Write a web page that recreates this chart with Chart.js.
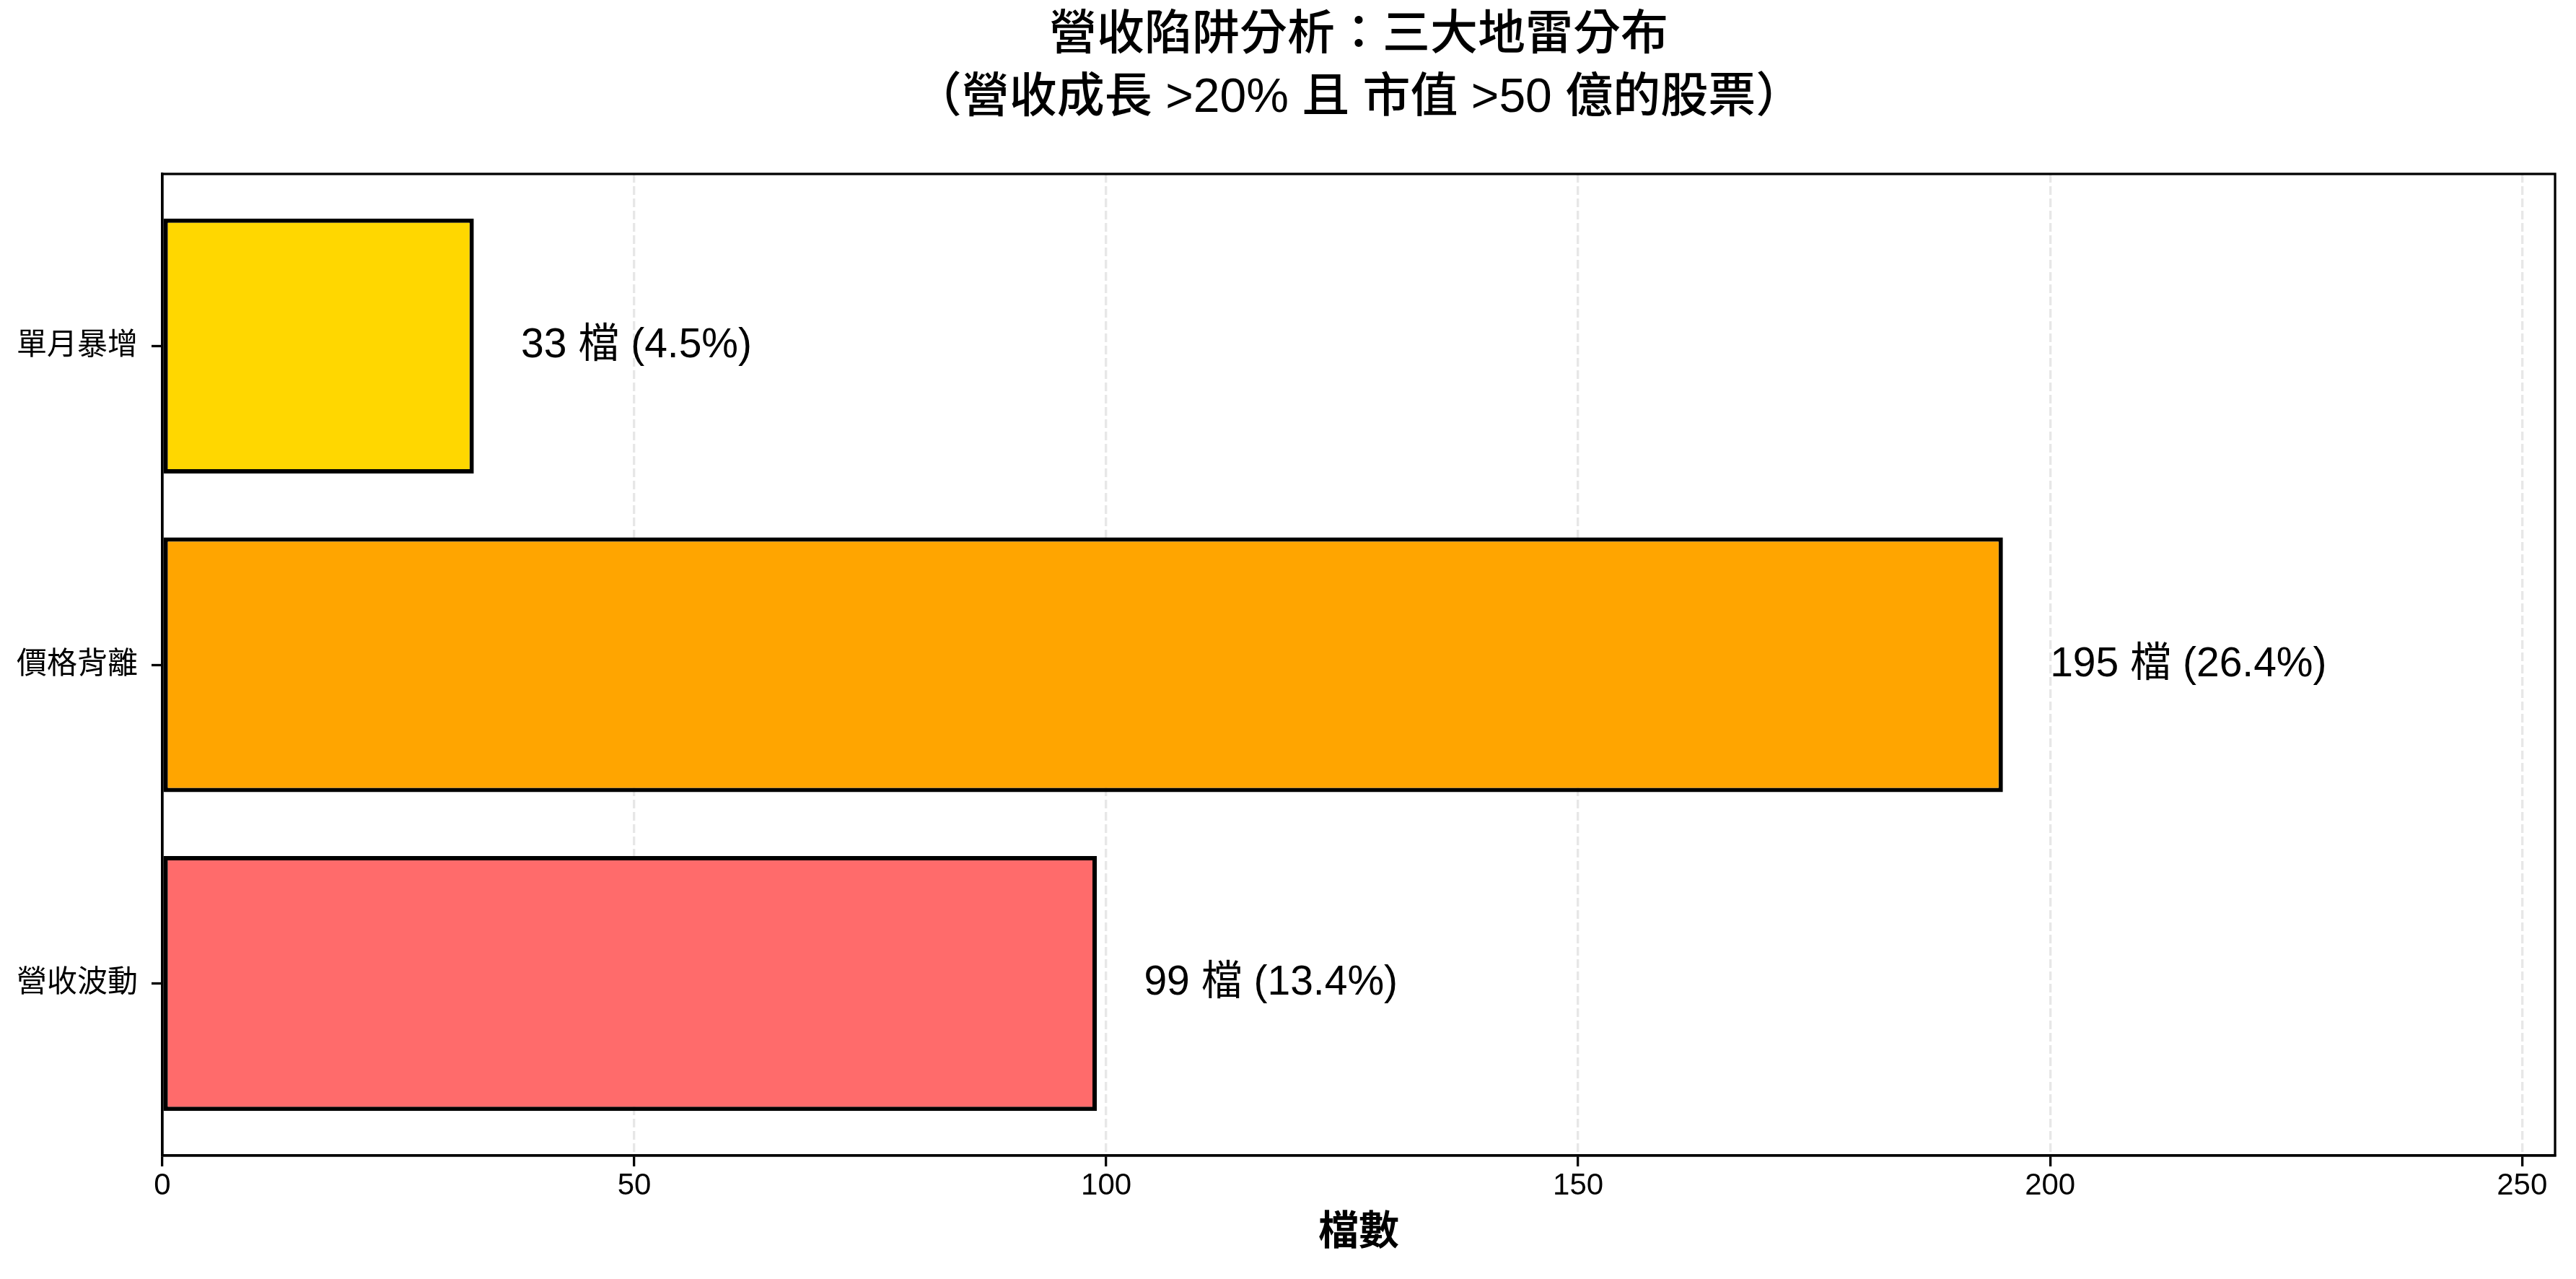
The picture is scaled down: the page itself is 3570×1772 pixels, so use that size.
<!DOCTYPE html>
<html>
<head>
<meta charset="utf-8">
<title>營收陷阱分析</title>
<script src="https://cdn.jsdelivr.net/npm/chart.js@4.4.0/dist/chart.umd.min.js"></script>
<style>
  html, body { margin: 0; padding: 0; background: #fff; }
  canvas { display: block; }
</style>
</head>
<body>
<canvas id="trapChart" width="3570" height="1772"></canvas>
<script>
// 三大地雷 (bottom to top, same order as the bars)
const categories = ["營收波動", "價格背離", "單月暴增"];
const counts = [99, 195, 33];
const percents = [13.4, 26.4, 4.5];
const xTicks = [0, 50, 100, 150, 200, 250];
const titleLines = ["營收陷阱分析：三大地雷分布", "（營收成長 >20% 且 市值 >50 億的股票）"];
const xTitle = "檔數";

const barColors = ["#FF6B6B", "#FFA500", "#FFD700"];
const FONT = "'Liberation Sans', 'Noto Sans CJK TC', sans-serif";

// value labels to the right of each bar
const barLabels = {
    id: 'barLabels',
    afterDatasetsDraw(chart) {
        const ctx = chart.ctx;
        const x = chart.scales.x;
        const meta = chart.getDatasetMeta(0);
        ctx.save();
        ctx.font = `57px ${FONT}`;
        ctx.fillStyle = '#000';
        ctx.textAlign = 'left';
        ctx.textBaseline = 'middle';
        meta.data.forEach((bar, i) => {
            ctx.fillText(`${counts[i]} 檔 (${percents[i]}%)`, x.getPixelForValue(counts[i] + 5), bar.y);
        });
        ctx.restore();
    }
};

// full box around the plot + title centred over the plot area
const frameAndTitle = {
    id: 'frameAndTitle',
    afterDraw(chart) {
        const { ctx, chartArea: a } = chart;
        ctx.save();
        ctx.strokeStyle = '#000';
        ctx.lineWidth = 3.3;
        ctx.strokeRect(a.left, a.top, a.right - a.left, a.bottom - a.top);

        ctx.font = `500 66px ${FONT}`;
        ctx.fillStyle = '#000';
        ctx.textAlign = 'center';
        ctx.textBaseline = 'middle';
        const cx = (a.left + a.right) / 2;
        ctx.fillText(titleLines[0], cx, 50);
        ctx.fillText(titleLines[1], cx, 137);
        ctx.restore();
    }
};

const ctx = document.getElementById('trapChart').getContext('2d');
const trapChart = new Chart(ctx, {
    type: 'bar',
    data: {
        datasets: [{
            data: counts.map((c, i) => ({ x: c, y: i })),
            backgroundColor: barColors,
            borderColor: '#000',
            borderWidth: 6,
            borderSkipped: false,
            categoryPercentage: 1,
            barPercentage: 0.8
        }]
    },
    options: {
        indexAxis: 'y',
        responsive: false,
        animation: false,
        devicePixelRatio: 1,
        layout: { padding: { top: 241, right: 29, bottom: 26, left: 0 } },
        plugins: {
            legend: { display: false },
            tooltip: { enabled: false },
            title: { display: false }
        },
        scales: {
            x: {
                type: 'linear',
                min: 0,
                max: Math.max(...counts) * 1.3,
                z: 1,
                afterBuildTicks: s => { s.ticks = xTicks.map(v => ({ value: v })); },
                afterFit: s => { s.height = 145; },
                ticks: { font: { family: FONT, size: 42 }, color: '#000', padding: 2 },
                grid: {
                    color: c => (c.tick && c.tick.value === 0) ? 'rgba(0,0,0,0)' : 'rgba(176,176,176,0.3)',
                    lineWidth: 3.3,
                    tickLength: 15,
                    tickWidth: 3.3,
                    tickColor: '#000'
                },
                border: { color: '#000', width: 3.3, dash: [12, 5] },
                title: {
                    display: true,
                    text: xTitle,
                    font: { family: FONT, size: 56, weight: 'bold' },
                    color: '#000',
                    padding: { top: 4, bottom: 4 }
                }
            },
            y: {
                type: 'linear',
                min: -0.54,
                max: 2.54,
                offset: false,
                z: 2,
                afterBuildTicks: s => { s.ticks = categories.map((c, i) => ({ value: i })); },
                afterFit: s => { s.width = 225; },
                ticks: {
                    callback: v => categories[v],
                    font: { family: FONT, size: 42 },
                    color: '#000',
                    padding: 19
                },
                grid: {
                    offset: false,
                    drawOnChartArea: false,
                    tickLength: 15,
                    tickWidth: 3.3,
                    tickColor: '#000'
                },
                border: { color: '#000', width: 3.3 }
            }
        }
    },
    plugins: [barLabels, frameAndTitle]
});
</script>
</body>
</html>
